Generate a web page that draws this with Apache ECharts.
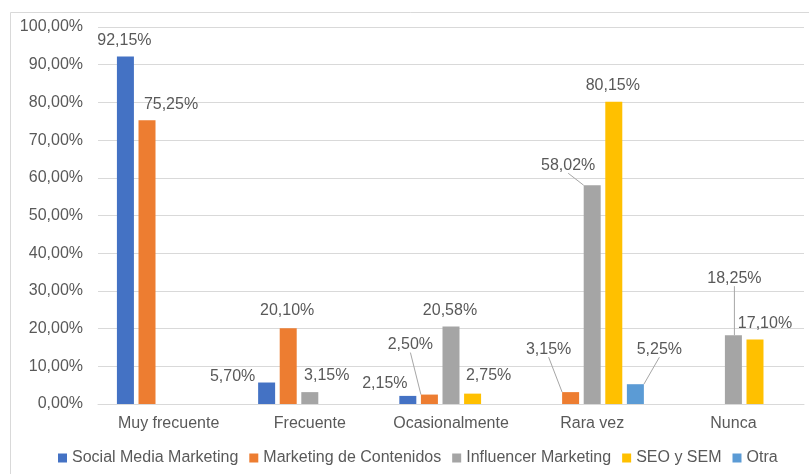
<!DOCTYPE html>
<html>
<head>
<meta charset="utf-8">
<script src="https://cdn.jsdelivr.net/npm/echarts@6/dist/echarts.min.js"></script>
<style>
  html, body { margin: 0; padding: 0; background: #fff; }
  #main { width: 809px; height: 474px; }
</style>
</head>
<body>
<div id="main"></div>
<script>
var categories = ["Muy frecuente", "Frecuente", "Ocasionalmente", "Rara vez", "Nunca"];
var seriesNames = ["Social Media Marketing", "Marketing de Contenidos", "Influencer Marketing", "SEO y SEM", "Otra"];
var socialMedia = [92.15, 5.70, 2.15, null, null];
var contenidos = [75.25, 20.10, 2.50, 3.15, null];
var influencer = [null, 3.15, 20.58, 58.02, 18.25];
var seoSem = [null, null, 2.75, 80.15, 17.10];
var otra = [null, null, null, 5.25, null];
var yTicks = [0, 10, 20, 30, 40, 50, 60, 70, 80, 90, 100];

var colors = ["#4472C4", "#ED7D31", "#A5A5A5", "#FFC000", "#5B9BD5"];
var font = 'Arial, "Liberation Sans", sans-serif';

// where Excel moved each label, relative to the default "top" place
var labelMoves = [
  [[-1, -3], [-34, 7], [-23, 1], null, null],
  [[24, -3], [-1, -5], [-19, -37], [-22, -30], null],
  [null, [17, -4], [-1, -3], [-24, -7], [1, -44]],
  [null, null, [16, -5], [-1, -3], [10, -3]],
  [null, null, null, [24, -22], null]
];
// labels that keep a leader line
var withLine = { "1-2": true, "1-3": true, "2-3": true, "2-4": true, "4-3": true };

function pct(v) {
  return v.toFixed(2).replace(".", ",") + "%";
}

var chart = echarts.init(document.getElementById("main"));
var allValues = [socialMedia, contenidos, influencer, seoSem, otra];

var series = allValues.map(function (vals, s) {
  return {
    name: seriesNames[s],
    type: "bar",
    barWidth: 17,
    barGap: "27%",
    itemStyle: { color: colors[s] },
    label: {
      show: true,
      position: "top",
      distance: 5,
      fontFamily: font,
      fontSize: 16,
      color: "#595959",
      formatter: function (p) { return pct(p.value); }
    },
    labelLine: { show: false, lineStyle: { color: "#a6a6a6", width: 1 } },
    labelLayout: function (p) {
      var m = labelMoves[p.seriesIndex][p.dataIndex];
      return m ? { dx: m[0], dy: m[1] } : {};
    },
    data: vals.map(function (v, i) {
      if (v == null) return "-";
      var item = { value: v };
      if (withLine[s + "-" + i]) {
        item.labelLine = { show: true, lineStyle: { color: "#a6a6a6", width: 1 } };
      }
      return item;
    })
  };
});

chart.setOption({
  animation: false,
  backgroundColor: "#fff",
  graphic: [{
    type: "rect",
    left: 8, top: 10,
    shape: { width: 900, height: 600 },
    style: { fill: "none", stroke: "#d9d9d9", lineWidth: 1 },
    z: -10
  }],
  grid: { left: 98, right: 5, top: 27, bottom: 70 },
  legend: {
    left: 53,
    top: 445,
    icon: "rect",
    itemWidth: 9,
    itemHeight: 9,
    itemGap: 11,
    textStyle: { fontFamily: font, fontSize: 16, color: "#595959" },
    data: seriesNames
  },
  xAxis: {
    type: "category",
    data: categories,
    axisTick: { show: false },
    axisLine: { lineStyle: { color: "#d9d9d9" } },
    axisLabel: { interval: 0, fontFamily: font, fontSize: 16, color: "#595959", margin: 12 }
  },
  yAxis: {
    type: "value",
    min: yTicks[0],
    max: yTicks[yTicks.length - 1],
    interval: yTicks[1] - yTicks[0],
    axisLine: { show: false },
    axisTick: { show: false },
    splitLine: { lineStyle: { color: "#d9d9d9" } },
    axisLabel: {
      fontFamily: font, fontSize: 16, color: "#595959", margin: 15,
      formatter: function (v) { return pct(v); }
    }
  },
  series: series
});
</script>
</body>
</html>
